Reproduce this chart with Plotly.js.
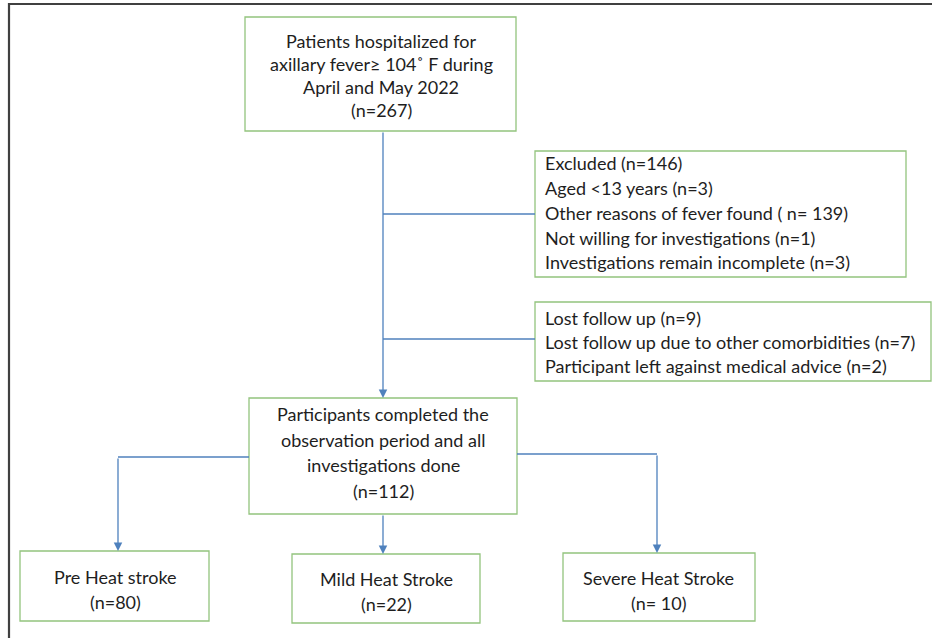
<!DOCTYPE html>
<html><head><meta charset="utf-8">
<script src="https://cdn.plot.ly/plotly-3.0.1.min.js"></script>
<style>body{margin:0;background:#fff}</style></head>
<body><div id="c" style="width:932px;height:638px"></div>
<script>
// ---- content (text & counts) ----
const enrolledLines = ["Patients hospitalized for", "axillary fever≥ 104˚ F during", "April and May 2022", "(n=267)"];
const excludedLines = ["Excluded (n=146)", "Aged &lt;13 years (n=3)", "Other reasons of fever found ( n= 139)", "Not willing for investigations (n=1)", "Investigations remain incomplete (n=3)"];
const lostLines = ["Lost follow up (n=9)", "Lost follow up due to other comorbidities (n=7)", "Participant left against medical advice (n=2)"];
const completedLines = ["Participants completed the", "observation period and all", "investigations done", "(n=112)"];
const groupNames = ["Pre Heat stroke", "Mild Heat Stroke", "Severe Heat Stroke"];
const groupCounts = ["(n=80)", "(n=22)", "(n= 10)"];

// ---- geometry (pixel coordinates) ----
const boxGeo = {
  enrolled:  {x0:245, x1:516, y0:17,  y1:131, cx:381, ys:[41,64,87,110]},
  excluded:  {x0:535, x1:906, y0:151, y1:277, lx:543, ys:[163,188,213,238,262]},
  lost:      {x0:535, x1:931, y0:302, y1:381, lx:543, ys:[318,342,366]},
  completed: {x0:249, x1:517, y0:398, y1:514, cx:383, ys:[414,440,465,491]}
};
const groupGeo = [
  {x0:20,  x1:209, y0:551, y1:621, cx:115, ys:[577,602]},
  {x0:292, x1:480, y0:554, y1:623, cx:386, ys:[579,604]},
  {x0:563, x1:755, y0:553, y1:621, cx:658, ys:[578,603]}
];

const BOX = '#93c47d', LINE = '#4f81bd', TXT = '#1e1e1e';
const FONT = {family:'Lato, "Open Sans", sans-serif', size:18, color:TXT};
const shapes = [], annotations = [];

function rect(g){ shapes.push({type:'rect', xref:'x', yref:'y', x0:g.x0, x1:g.x1, y0:g.y0, y1:g.y1, line:{color:BOX, width:1.3}, fillcolor:'rgba(0,0,0,0)'}); }
function seg(x0,y0,x1,y1){ shapes.push({type:'line', xref:'x', yref:'y', x0, y0, x1, y1, line:{color:LINE, width:1.3}}); }
function arrow(x,yFrom,yTo){ annotations.push({x:x, y:yTo, ax:x, ay:yFrom, xref:'x', yref:'y', axref:'x', ayref:'y', text:'', showarrow:true, arrowhead:2, arrowsize:1.3, arrowwidth:1.3, arrowcolor:LINE, standoff:0}); }
function textLines(lines, g, align){
  lines.forEach((t,i)=>{
    annotations.push({x: align==='left'? g.lx : g.cx, y:g.ys[i], xref:'x', yref:'y', text:t, showarrow:false,
      xanchor: align==='left'?'left':'center', yanchor:'middle', font:FONT});
  });
}

// outer frame (left and top)
shapes.push({type:'path', xref:'x', yref:'y', path:'M 9 638 L 9 4 L 932 4', line:{color:'#404040', width:2.2}});

rect(boxGeo.enrolled); rect(boxGeo.excluded); rect(boxGeo.lost); rect(boxGeo.completed);
groupGeo.forEach(rect);

textLines(enrolledLines, boxGeo.enrolled, 'center');
textLines(excludedLines, boxGeo.excluded, 'left');
textLines(lostLines, boxGeo.lost, 'left');
textLines(completedLines, boxGeo.completed, 'center');
groupGeo.forEach((g,i)=> textLines([groupNames[i], groupCounts[i]], g, 'center'));

// connectors
arrow(383, 131, 398);
seg(383, 214, 535, 214);
seg(383, 339, 535, 339);
seg(249, 457, 118, 457); arrow(118, 457, 551);
arrow(383, 514, 554);
seg(517, 454, 657, 454); arrow(657, 454, 553);

Plotly.newPlot('c', [], {
  width:932, height:638, margin:{l:0,r:0,t:0,b:0},
  paper_bgcolor:'#fff', plot_bgcolor:'#fff', showlegend:false,
  xaxis:{range:[0,932], visible:false, fixedrange:true},
  yaxis:{range:[638,0], visible:false, fixedrange:true},
  shapes, annotations
}, {displayModeBar:false, staticPlot:true});
</script></body></html>
